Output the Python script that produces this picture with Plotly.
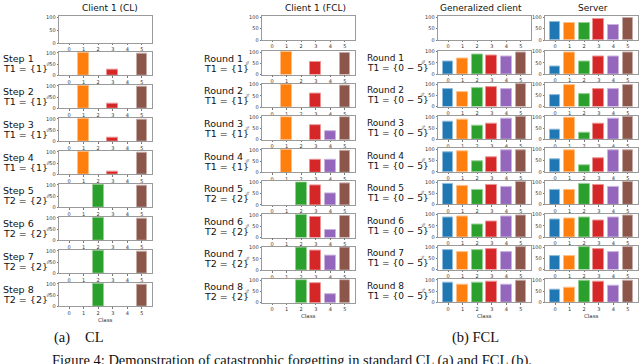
import plotly.graph_objects as go

W, H = 640, 364

classes = [0, 1, 2, 3, 4, 5]
class_labels = ["0", "1", "2", "3", "4", "5"]
colors = ["#1f77b4", "#ff7f0e", "#2ca02c", "#d62728", "#9467bd", "#8c564b"]
edge_colors = ["#8fbbd9", "#ffbf86", "#95cf95", "#eb9393", "#c9b3de", "#c5aaa5"]

col_titles = ["Client 1 (CL)", "Client 1 (FCL)", "Generalized client", "Server"]

cl_row_names = ["Step 1", "Step 2", "Step 3", "Step 4", "Step 5", "Step 6", "Step 7", "Step 8"]
cl_tasks = ["T1 = {1}"] * 4 + ["T2 = {2}"] * 4
fcl_row_names = ["Round 1", "Round 2", "Round 3", "Round 4", "Round 5", "Round 6", "Round 7", "Round 8"]
fcl_tasks = ["T1 = {1}"] * 4 + ["T2 = {2}"] * 4
gen_tasks = ["T1 = {0 − 5}"] * 8

# accuracy per class (%), row 0 = initial state (None = empty panel)
cl_acc = [
    None,
    [0, 100, 0, 25, 0, 95],
    [0, 100, 0, 18, 0, 95],
    [0, 100, 0, 14, 0, 97],
    [0, 100, 0, 9, 0, 97],
    [0, 0, 100, 0, 0, 95],
    [0, 0, 100, 0, 0, 95],
    [0, 0, 100, 0, 0, 95],
    [0, 0, 100, 0, 0, 95],
]
fcl_acc = [
    None,
    [0, 100, 0, 58, 0, 95],
    [0, 100, 0, 60, 0, 95],
    [0, 100, 0, 65, 38, 100],
    [0, 100, 0, 55, 58, 97],
    [0, 0, 100, 88, 53, 98],
    [0, 0, 100, 90, 35, 98],
    [0, 0, 100, 88, 65, 100],
    [0, 0, 100, 88, 38, 100],
]
gen_acc = [
    None,
    [58, 68, 88, 82, 76, 98],
    [78, 65, 82, 85, 78, 100],
    [78, 88, 60, 68, 92, 100],
    [87, 93, 45, 63, 97, 98],
    [90, 82, 64, 85, 80, 100],
    [87, 92, 57, 70, 92, 98],
    [88, 80, 85, 92, 80, 100],
    [85, 80, 85, 90, 77, 98],
]
server_acc = [
    [78, 73, 73, 90, 65, 95],
    [33, 97, 57, 77, 78, 98],
    [53, 95, 55, 77, 80, 98],
    [43, 95, 28, 68, 92, 100],
    [57, 98, 27, 62, 95, 97],
    [65, 65, 92, 88, 80, 100],
    [78, 82, 87, 75, 87, 98],
    [62, 62, 100, 92, 78, 100],
    [58, 65, 98, 92, 75, 98],
]
all_acc = [cl_acc, fcl_acc, gen_acc, server_acc]

# ---- geometry (pixels) ----
col_left = [59, 262, 438, 545]
col_w = 93
row0_top = 16
row_start = [51.7, 51, 50.5, 50.5]
row_pitch = [33.0, 32.6, 32.6, 32.6]
row_h = 23.5
row0_h = [27, 24, 24, 24]


def px_x(x):
    return x / W


def px_y(y):
    return 1 - y / H


def box(ci, ri):
    if ri == 0:
        top = row0_top
        h = row0_h[ci]
    else:
        top = row_start[ci] + row_pitch[ci] * (ri - 1)
        h = row_h
    return top, top + h


fig = go.Figure()
layout = {}
annotations = []
n = 0
for ci in range(4):
    for ri in range(9):
        n += 1
        top, bot = box(ci, ri)
        vals = all_acc[ci][ri]
        if vals is None:
            yv = [None] * 6
        else:
            yv = [v if v > 0 else None for v in vals]
        fig.add_trace(go.Bar(
            x=classes, y=yv, width=0.74,
            marker=dict(color=colors, line=dict(color=edge_colors, width=1)),
            xaxis="x%d" % n, yaxis="y%d" % n, showlegend=False, hoverinfo="skip",
        ))
        axis_common = dict(showline=True, mirror=True, linecolor="#9a9a9a", linewidth=0.8,
                           showgrid=False, zeroline=False, ticks="outside", ticklen=1.5,
                           tickwidth=0.6, tickcolor="#777", automargin=False,
                           tickfont=dict(family="DejaVu Sans", size=5, color="#333"))
        layout["xaxis%d" % n] = dict(
            axis_common, anchor="y%d" % n,
            domain=[px_x(col_left[ci]), px_x(col_left[ci] + col_w)],
            range=[-0.69, 5.69], tickmode="array", tickvals=classes, ticktext=class_labels,
        )
        layout["yaxis%d" % n] = dict(
            axis_common, anchor="x%d" % n,
            domain=[px_y(bot), px_y(top)],
            range=[0, 105], tickmode="array", tickvals=[0, 50, 100],
            ticktext=["0", "50", "100"],
        )
        if ri > 0 and ci < 3:
            annotations.append(dict(
                x=px_x([48.5, 247.5, 423][ci]), y=px_y((top + bot) / 2), text="%",
                textangle=-90, showarrow=False, xref="paper", yref="paper",
                xanchor="center", yanchor="middle",
                font=dict(family="DejaVu Sans", size=4.5, color="#333"),
            ))
        if ri == 8:
            annotations.append(dict(
                x=px_x(col_left[ci] + col_w / 2), y=px_y(bot + 13.5), text="Class",
                showarrow=False, xref="paper", yref="paper",
                xanchor="center", yanchor="middle",
                font=dict(family="DejaVu Sans", size=5.5, color="#333"),
            ))

# row labels
label_x = [1, 202, 365]
names = [cl_row_names, fcl_row_names, fcl_row_names]
tasks = [cl_tasks, fcl_tasks, gen_tasks]
for ci in range(3):
    for ri in range(1, 9):
        top, bot = box(ci, ri)
        c = (top + bot) / 2
        for txt, dy in [(names[ci][ri - 1], -4.5), (tasks[ci][ri - 1], 5.5)]:
            annotations.append(dict(
                x=px_x(label_x[ci]), y=px_y(c + dy), text=txt, xanchor="left",
                yanchor="middle", showarrow=False, xref="paper", yref="paper",
                font=dict(family="DejaVu Sans", size=9.5 if ci < 2 else 9, color="#111"),
            ))

# column titles
title_x = [109.5, 315, 481, 593]
for ci in range(4):
    annotations.append(dict(
        x=px_x(title_x[ci]), y=px_y(8), text=col_titles[ci], showarrow=False,
        xref="paper", yref="paper", xanchor="center", yanchor="middle",
        font=dict(family="DejaVu Sans", size=9, color="#111"),
    ))

# captions
serif = dict(family="Liberation Serif", size=14.5, color="#111")
annotations += [
    dict(x=px_x(52), y=px_y(337), text="(a)", xanchor="left", yanchor="middle",
         showarrow=False, xref="paper", yref="paper", font=serif),
    dict(x=px_x(83), y=px_y(337), text="CL", xanchor="left", yanchor="middle",
         showarrow=False, xref="paper", yref="paper", font=serif),
    dict(x=px_x(450), y=px_y(337), text="(b) FCL", xanchor="left", yanchor="middle",
         showarrow=False, xref="paper", yref="paper", font=serif),
    dict(x=px_x(50), y=px_y(360.5), text="Figure 4: Demonstration of catastrophic forgetting in standard CL (a) and FCL (b).",
         xanchor="left", yanchor="middle", showarrow=False, xref="paper", yref="paper", font=serif),
]

fig.update_layout(
    width=W, height=H, autosize=False,
    margin=dict(l=0, r=0, t=0, b=0),
    paper_bgcolor="white", plot_bgcolor="white",
    bargap=0, annotations=annotations, **layout,
)

fig.write_html(
    "out.html",
    config={"displayModeBar": False},
    post_script="document.documentElement.style.margin='0';document.body.style.margin='0';"
                "document.body.style.overflow='hidden';",
)
